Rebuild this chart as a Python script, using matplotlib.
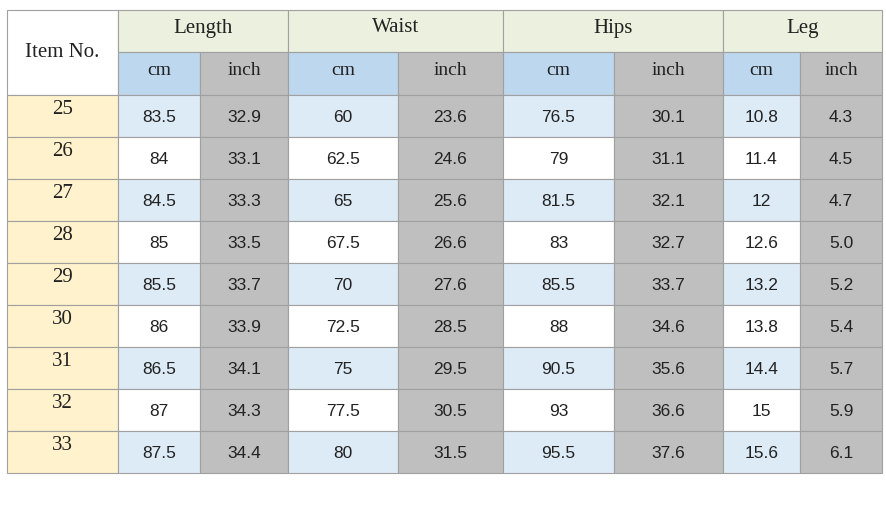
import matplotlib.pyplot as plt
from matplotlib.patches import Rectangle

items = [25, 26, 27, 28, 29, 30, 31, 32, 33]
groups = ['Length', 'Waist', 'Hips', 'Leg']
length_cm = ['83.5', '84', '84.5', '85', '85.5', '86', '86.5', '87', '87.5']
length_in = ['32.9', '33.1', '33.3', '33.5', '33.7', '33.9', '34.1', '34.3', '34.4']
waist_cm = ['60', '62.5', '65', '67.5', '70', '72.5', '75', '77.5', '80']
waist_in = ['23.6', '24.6', '25.6', '26.6', '27.6', '28.5', '29.5', '30.5', '31.5']
hips_cm = ['76.5', '79', '81.5', '83', '85.5', '88', '90.5', '93', '95.5']
hips_in = ['30.1', '31.1', '32.1', '32.7', '33.7', '34.6', '35.6', '36.6', '37.6']
leg_cm = ['10.8', '11.4', '12', '12.6', '13.2', '13.8', '14.4', '15', '15.6']
leg_in = ['4.3', '4.5', '4.7', '5.0', '5.2', '5.4', '5.7', '5.9', '6.1']

cols = [length_cm, length_in, waist_cm, waist_in, hips_cm, hips_in, leg_cm, leg_in]
xs = [7, 118, 200, 288, 398, 503, 614, 723, 800, 882]
y0, h1, h2, rh = 10, 42, 43, 42

fig = plt.figure(figsize=(8.86, 5.19), dpi=100)
ax = fig.add_axes([0, 0, 1, 1])
ax.set_xlim(0, 886)
ax.set_ylim(519, 0)
ax.axis('off')

serif = 'Liberation Serif'
sans = 'Liberation Sans'
edge = '#a0a0a0'

def cell(x0, x1, ya, yb, fc, text, font, size, dy=0):
    ax.add_patch(Rectangle((x0, ya), x1 - x0, yb - ya, facecolor=fc, edgecolor=edge, lw=0.8))
    ax.text((x0 + x1) / 2, (ya + yb) / 2 + dy, text, ha='center', va='center',
            family=font, fontsize=size, color='#222222')

# headers
cell(xs[0], xs[1], y0, y0 + h1 + h2, 'white', 'Item No.', serif, 15)
for g, name in enumerate(groups):
    cell(xs[1 + 2 * g], xs[3 + 2 * g], y0, y0 + h1, '#ebf1de', name, serif, 15, -3)
    cell(xs[1 + 2 * g], xs[2 + 2 * g], y0 + h1, y0 + h1 + h2, '#bdd7ee', 'cm', serif, 14, -3)
    cell(xs[2 + 2 * g], xs[3 + 2 * g], y0 + h1, y0 + h1 + h2, '#bfbfbf', 'inch', serif, 14, -3)

top = y0 + h1 + h2
for r, it in enumerate(items):
    ya, yb = top + r * rh, top + (r + 1) * rh
    cell(xs[0], xs[1], ya, yb, '#fff2cc', str(it), serif, 15, -6)
    blue = '#ddebf7' if r % 2 == 0 else 'white'
    for c, vals in enumerate(cols):
        fc = blue if c % 2 == 0 else '#bfbfbf'
        cell(xs[c + 1], xs[c + 2], ya, yb, fc, vals[r], sans, 12.5, 1)

fig.savefig('out.png', dpi=100)
